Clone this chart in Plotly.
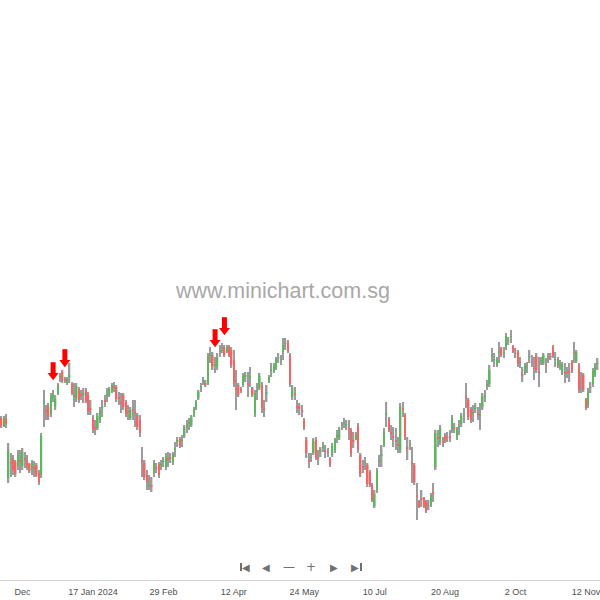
import plotly.graph_objects as go

# ---------------- data (prices) ----------------
HIGH = [0.486,0.484,0.484,0.486,0.457,0.447,0.445,0.440,0.450,0.450,
        0.452,0.448,0.445,0.437,0.440,0.439,0.437,0.430,0.467,0.510,
        0.495,0.497,0.507,0.510,0.505,0.517,0.527,0.530,0.523,0.523,
        0.537,0.518,0.517,0.517,0.513,0.510,0.512,0.512,0.508,0.500,
        0.485,0.480,0.487,0.493,0.500,0.505,0.512,0.513,0.517,0.518,
        0.515,0.508,0.507,0.507,0.500,0.495,0.493,0.500,0.500,0.487,
        0.485,0.453,0.440,0.430,0.425,0.423,0.440,0.437,0.438,0.440,
        0.443,0.447,0.448,0.447,0.448,0.458,0.463,0.463,0.465,0.475,
        0.480,0.482,0.485,0.493,0.500,0.510,0.517,0.523,0.520,0.547,
        0.553,0.548,0.543,0.547,0.555,0.557,0.555,0.555,0.555,0.553,
        0.550,0.530,0.517,0.513,0.527,0.528,0.528,0.533,0.513,0.510,
        0.517,0.527,0.518,0.500,0.515,0.525,0.537,0.537,0.543,0.547,
        0.545,0.562,0.562,0.560,0.547,0.515,0.513,0.500,0.497,0.495,
        0.482,0.463,0.447,0.447,0.462,0.463,0.450,0.453,0.458,0.455,
        0.452,0.443,0.457,0.462,0.470,0.473,0.478,0.482,0.480,0.480,
        0.472,0.468,0.468,0.477,0.447,0.440,0.443,0.437,0.430,0.417,
        0.410,0.432,0.445,0.455,0.472,0.498,0.483,0.475,0.473,0.472,
        0.463,0.497,0.498,0.487,0.463,0.460,0.453,0.437,0.417,0.400,
        0.410,0.403,0.400,0.400,0.407,0.417,0.470,0.470,0.475,0.463,
        0.467,0.468,0.470,0.485,0.477,0.473,0.480,0.487,0.492,0.517,
        0.502,0.493,0.495,0.497,0.493,0.497,0.507,0.510,0.520,0.535,
        0.552,0.547,0.543,0.558,0.553,0.553,0.567,0.563,0.570,0.555,
        0.552,0.550,0.543,0.533,0.537,0.538,0.550,0.545,0.543,0.547,
        0.543,0.543,0.547,0.542,0.547,0.547,0.555,0.548,0.543,0.540,
        0.538,0.537,0.533,0.537,0.540,0.558,0.550,0.537,0.528,0.527,
        0.502,0.512,0.518,0.532,0.537,0.542]

LOW = [0.476,0.472,0.473,0.472,0.417,0.423,0.425,0.423,0.430,0.427,
       0.430,0.432,0.430,0.427,0.425,0.423,0.423,0.415,0.422,0.473,
       0.480,0.480,0.483,0.498,0.490,0.505,0.518,0.517,0.517,0.515,
       0.517,0.505,0.493,0.498,0.497,0.500,0.497,0.497,0.485,0.485,
       0.467,0.465,0.470,0.477,0.483,0.493,0.498,0.503,0.507,0.508,
       0.498,0.495,0.487,0.490,0.483,0.480,0.480,0.480,0.473,0.470,
       0.463,0.423,0.420,0.410,0.410,0.408,0.423,0.427,0.422,0.430,
       0.433,0.430,0.433,0.437,0.435,0.443,0.453,0.452,0.453,0.462,
       0.467,0.470,0.473,0.483,0.490,0.500,0.508,0.515,0.513,0.515,
       0.537,0.530,0.527,0.530,0.543,0.547,0.543,0.547,0.543,0.532,
       0.513,0.490,0.503,0.507,0.513,0.518,0.503,0.513,0.503,0.483,
       0.500,0.510,0.487,0.483,0.498,0.517,0.523,0.527,0.530,0.537,
       0.535,0.540,0.550,0.547,0.513,0.500,0.500,0.487,0.485,0.483,
       0.470,0.442,0.432,0.438,0.445,0.440,0.435,0.443,0.448,0.442,
       0.443,0.433,0.443,0.447,0.457,0.460,0.470,0.472,0.470,0.460,
       0.443,0.452,0.460,0.447,0.423,0.427,0.430,0.413,0.413,0.398,
       0.392,0.407,0.433,0.433,0.453,0.473,0.468,0.460,0.453,0.450,
       0.447,0.447,0.483,0.460,0.440,0.450,0.417,0.415,0.380,0.392,
       0.393,0.392,0.387,0.390,0.393,0.398,0.430,0.453,0.455,0.453,
       0.457,0.458,0.458,0.467,0.467,0.460,0.465,0.473,0.477,0.492,
       0.480,0.477,0.478,0.487,0.480,0.470,0.490,0.498,0.510,0.513,
       0.538,0.533,0.533,0.537,0.543,0.542,0.550,0.555,0.557,0.547,
       0.542,0.533,0.532,0.518,0.525,0.527,0.537,0.533,0.520,0.527,
       0.513,0.535,0.535,0.527,0.537,0.540,0.542,0.533,0.532,0.530,
       0.525,0.517,0.522,0.518,0.527,0.537,0.537,0.507,0.507,0.508,
       0.490,0.492,0.507,0.513,0.523,0.530]

OPEN = [0.482,0.482,0.474,0.482,0.422,0.438,0.442,0.438,0.434,0.440,
        0.434,0.442,0.440,0.436,0.430,0.433,0.435,0.427,0.425,0.497,
        0.490,0.494,0.486,0.502,0.493,0.507,0.522,0.528,0.521,0.517,
        0.523,0.516,0.505,0.501,0.511,0.506,0.505,0.510,0.505,0.492,
        0.482,0.473,0.472,0.480,0.492,0.500,0.504,0.505,0.509,0.514,
        0.513,0.503,0.498,0.505,0.498,0.489,0.482,0.491,0.488,0.485,
        0.480,0.440,0.437,0.425,0.414,0.415,0.427,0.433,0.436,0.434,
        0.438,0.433,0.442,0.443,0.438,0.450,0.458,0.461,0.459,0.464,
        0.473,0.476,0.475,0.485,0.492,0.502,0.512,0.518,0.517,0.517,
        0.544,0.545,0.534,0.533,0.548,0.552,0.553,0.548,0.553,0.550,
        0.540,0.512,0.515,0.511,0.515,0.523,0.517,0.522,0.512,0.486,
        0.508,0.512,0.515,0.492,0.506,0.518,0.529,0.528,0.532,0.542,
        0.540,0.548,0.556,0.558,0.545,0.503,0.507,0.494,0.494,0.490,
        0.480,0.460,0.440,0.442,0.447,0.460,0.443,0.448,0.452,0.450,
        0.448,0.442,0.445,0.450,0.463,0.462,0.474,0.477,0.475,0.472,
        0.470,0.460,0.461,0.474,0.445,0.434,0.437,0.435,0.428,0.415,
        0.394,0.410,0.438,0.444,0.455,0.485,0.481,0.468,0.464,0.460,
        0.456,0.450,0.492,0.485,0.453,0.455,0.438,0.435,0.405,0.399,
        0.402,0.402,0.398,0.395,0.395,0.408,0.433,0.463,0.458,0.459,
        0.465,0.463,0.464,0.470,0.473,0.463,0.472,0.476,0.484,0.504,
        0.500,0.491,0.486,0.491,0.487,0.484,0.493,0.503,0.514,0.516,
        0.544,0.539,0.535,0.547,0.552,0.547,0.553,0.559,0.563,0.554,
        0.547,0.548,0.538,0.526,0.527,0.532,0.543,0.539,0.532,0.544,
        0.529,0.539,0.537,0.535,0.542,0.544,0.553,0.541,0.534,0.535,
        0.527,0.528,0.528,0.529,0.538,0.548,0.539,0.535,0.518,0.525,
        0.501,0.495,0.512,0.516,0.525,0.536]

CLOSE = [0.480,0.474,0.482,0.476,0.450,0.436,0.430,0.426,0.445,0.438,
         0.448,0.440,0.434,0.429,0.437,0.431,0.425,0.418,0.464,0.499,
         0.488,0.483,0.504,0.506,0.502,0.515,0.524,0.519,0.519,0.521,
         0.525,0.507,0.503,0.514,0.500,0.504,0.507,0.499,0.488,0.490,
         0.470,0.471,0.484,0.490,0.494,0.498,0.506,0.511,0.515,0.512,
         0.501,0.501,0.496,0.493,0.486,0.487,0.490,0.489,0.486,0.473,
         0.467,0.438,0.423,0.418,0.416,0.413,0.437,0.431,0.425,0.436,
         0.440,0.444,0.440,0.441,0.446,0.452,0.460,0.454,0.461,0.473,
         0.475,0.478,0.483,0.491,0.498,0.508,0.514,0.520,0.515,0.544,
         0.546,0.533,0.536,0.543,0.550,0.553,0.545,0.553,0.545,0.535,
         0.516,0.510,0.505,0.509,0.524,0.525,0.515,0.524,0.505,0.507,
         0.510,0.524,0.492,0.490,0.508,0.523,0.531,0.535,0.541,0.543,
         0.541,0.555,0.557,0.549,0.516,0.512,0.505,0.492,0.491,0.488,
         0.472,0.447,0.438,0.443,0.459,0.443,0.441,0.450,0.454,0.448,
         0.447,0.435,0.454,0.460,0.465,0.471,0.475,0.478,0.476,0.470,
         0.446,0.458,0.466,0.450,0.426,0.432,0.438,0.416,0.415,0.400,
         0.406,0.429,0.440,0.446,0.469,0.487,0.470,0.466,0.462,0.458,
         0.454,0.493,0.490,0.463,0.451,0.456,0.435,0.418,0.403,0.393,
         0.400,0.394,0.389,0.394,0.405,0.406,0.467,0.461,0.472,0.457,
         0.459,0.462,0.462,0.482,0.471,0.471,0.474,0.484,0.486,0.502,
         0.483,0.480,0.488,0.493,0.485,0.486,0.504,0.505,0.516,0.530,
         0.546,0.541,0.541,0.549,0.545,0.548,0.564,0.560,0.564,0.548,
         0.546,0.536,0.537,0.524,0.535,0.533,0.544,0.538,0.531,0.530,
         0.527,0.540,0.545,0.534,0.543,0.543,0.544,0.540,0.541,0.534,
         0.536,0.526,0.527,0.527,0.529,0.547,0.548,0.510,0.517,0.510,
         0.492,0.509,0.513,0.529,0.535,0.537]

TICK_INDEX = [10, 40, 70, 100, 130, 160, 190, 220, 250]
TICK_TEXT = ["Dec", "17 Jan 2024", "29 Feb", "12 Apr", "24 May",
             "10 Jul", "20 Aug", "2 Oct", "12 Nov"]
SIGNAL_INDEX = [23, 28, 92, 96]

# ---------------- styling ----------------
GREEN = "#5cb85c"
RED = "#f76464"
GREY = "#9c9c9c"
ARROW = "#ff0000"
BAR_W = 0.62

n = len(CLOSE)
x = list(range(n))
wick_len = [h - l for h, l in zip(HIGH, LOW)]
body_base = [min(o, c) for o, c in zip(OPEN, CLOSE)]
body_len = [abs(c - o) for o, c in zip(OPEN, CLOSE)]
body_col = [GREEN if c > o else (RED if c < o else GREY) for o, c in zip(OPEN, CLOSE)]

fig = go.Figure()
fig.add_trace(go.Bar(x=x, y=wick_len, base=LOW, width=BAR_W,
                     marker=dict(color=GREY, line=dict(width=0)),
                     hoverinfo="skip", showlegend=False))
fig.add_trace(go.Bar(x=x, y=body_len, base=body_base, width=BAR_W,
                     marker=dict(color=body_col, line=dict(width=0)),
                     customdata=list(zip(OPEN, HIGH, LOW, CLOSE)),
                     hovertemplate="O %{customdata[0]}<br>H %{customdata[1]}<br>L %{customdata[2]}<br>C %{customdata[3]}<extra></extra>",
                     showlegend=False))

# sell-signal arrows above the flagged bars
sig_x = SIGNAL_INDEX
sig_hi = [HIGH[i] for i in SIGNAL_INDEX]
fig.add_trace(go.Scatter(x=sig_x, y=[h + 0.0215 for h in sig_hi], mode="markers",
                         marker=dict(symbol="line-ns", size=9,
                                     line=dict(width=5, color=ARROW)),
                         hoverinfo="skip", showlegend=False))
fig.add_trace(go.Scatter(x=sig_x, y=[h + 0.0145 for h in sig_hi], mode="markers",
                         marker=dict(symbol="triangle-down", size=9.5, color=ARROW,
                                     line=dict(width=0)),
                         hoverinfo="skip", showlegend=False))

PLOT_H = 580.0
annotations = [
    dict(text="www.minichart.com.sg", x=282 / 600, y=1 - 291 / PLOT_H,
         xref="paper", yref="paper", showarrow=False,
         font=dict(family="Liberation Sans, Arial, sans-serif", size=21.5,
                   color="#a8a8a8"),
         xanchor="center", yanchor="middle"),
]
NAV_COLOR = "#707070"
nav = [("◀", 246), ("◀", 266), ("—", 289), ("+", 311), ("▶", 334), ("▶", 355)]
for txt, px in nav:
    annotations.append(dict(text=txt, x=px / 600, y=1 - 567 / PLOT_H,
                            xref="paper", yref="paper", showarrow=False,
                            xanchor="center", yanchor="middle",
                            font=dict(family="DejaVu Sans", size=10 if txt in "◀▶" else 12,
                                      color=NAV_COLOR)))
shapes = [
    dict(type="rect", xref="paper", yref="paper",
         x0=240 / 600, x1=242 / 600, y0=1 - 571 / PLOT_H, y1=1 - 563 / PLOT_H,
         fillcolor=NAV_COLOR, line=dict(width=0)),
    dict(type="rect", xref="paper", yref="paper",
         x0=360 / 600, x1=362 / 600, y0=1 - 571 / PLOT_H, y1=1 - 563 / PLOT_H,
         fillcolor=NAV_COLOR, line=dict(width=0)),
]

fig.update_layout(
    width=600, height=600,
    margin=dict(l=0, r=0, t=0, b=20, autoexpand=False),
    paper_bgcolor="white", plot_bgcolor="white",
    barmode="overlay", showlegend=False,
    annotations=annotations, shapes=shapes,
    xaxis=dict(range=[0.37, 256.0], tickmode="array", tickvals=TICK_INDEX,
               ticktext=TICK_TEXT, showgrid=False, zeroline=False,
               showline=True, linecolor="#d4d4d4", linewidth=1,
               ticks="outside", ticklen=3, tickcolor="rgba(0,0,0,0)",
               automargin=False, ticklabeloverflow="allow",
               tickfont=dict(family="Liberation Sans, Arial, sans-serif",
                             size=9, color="#505050")),
    yaxis=dict(range=[0.32, 0.90], visible=False, showgrid=False, zeroline=False),
)

fig.write_html("out.html", config={"displayModeBar": False},
               post_script="document.body.style.margin='0';document.body.style.overflow='hidden';")
